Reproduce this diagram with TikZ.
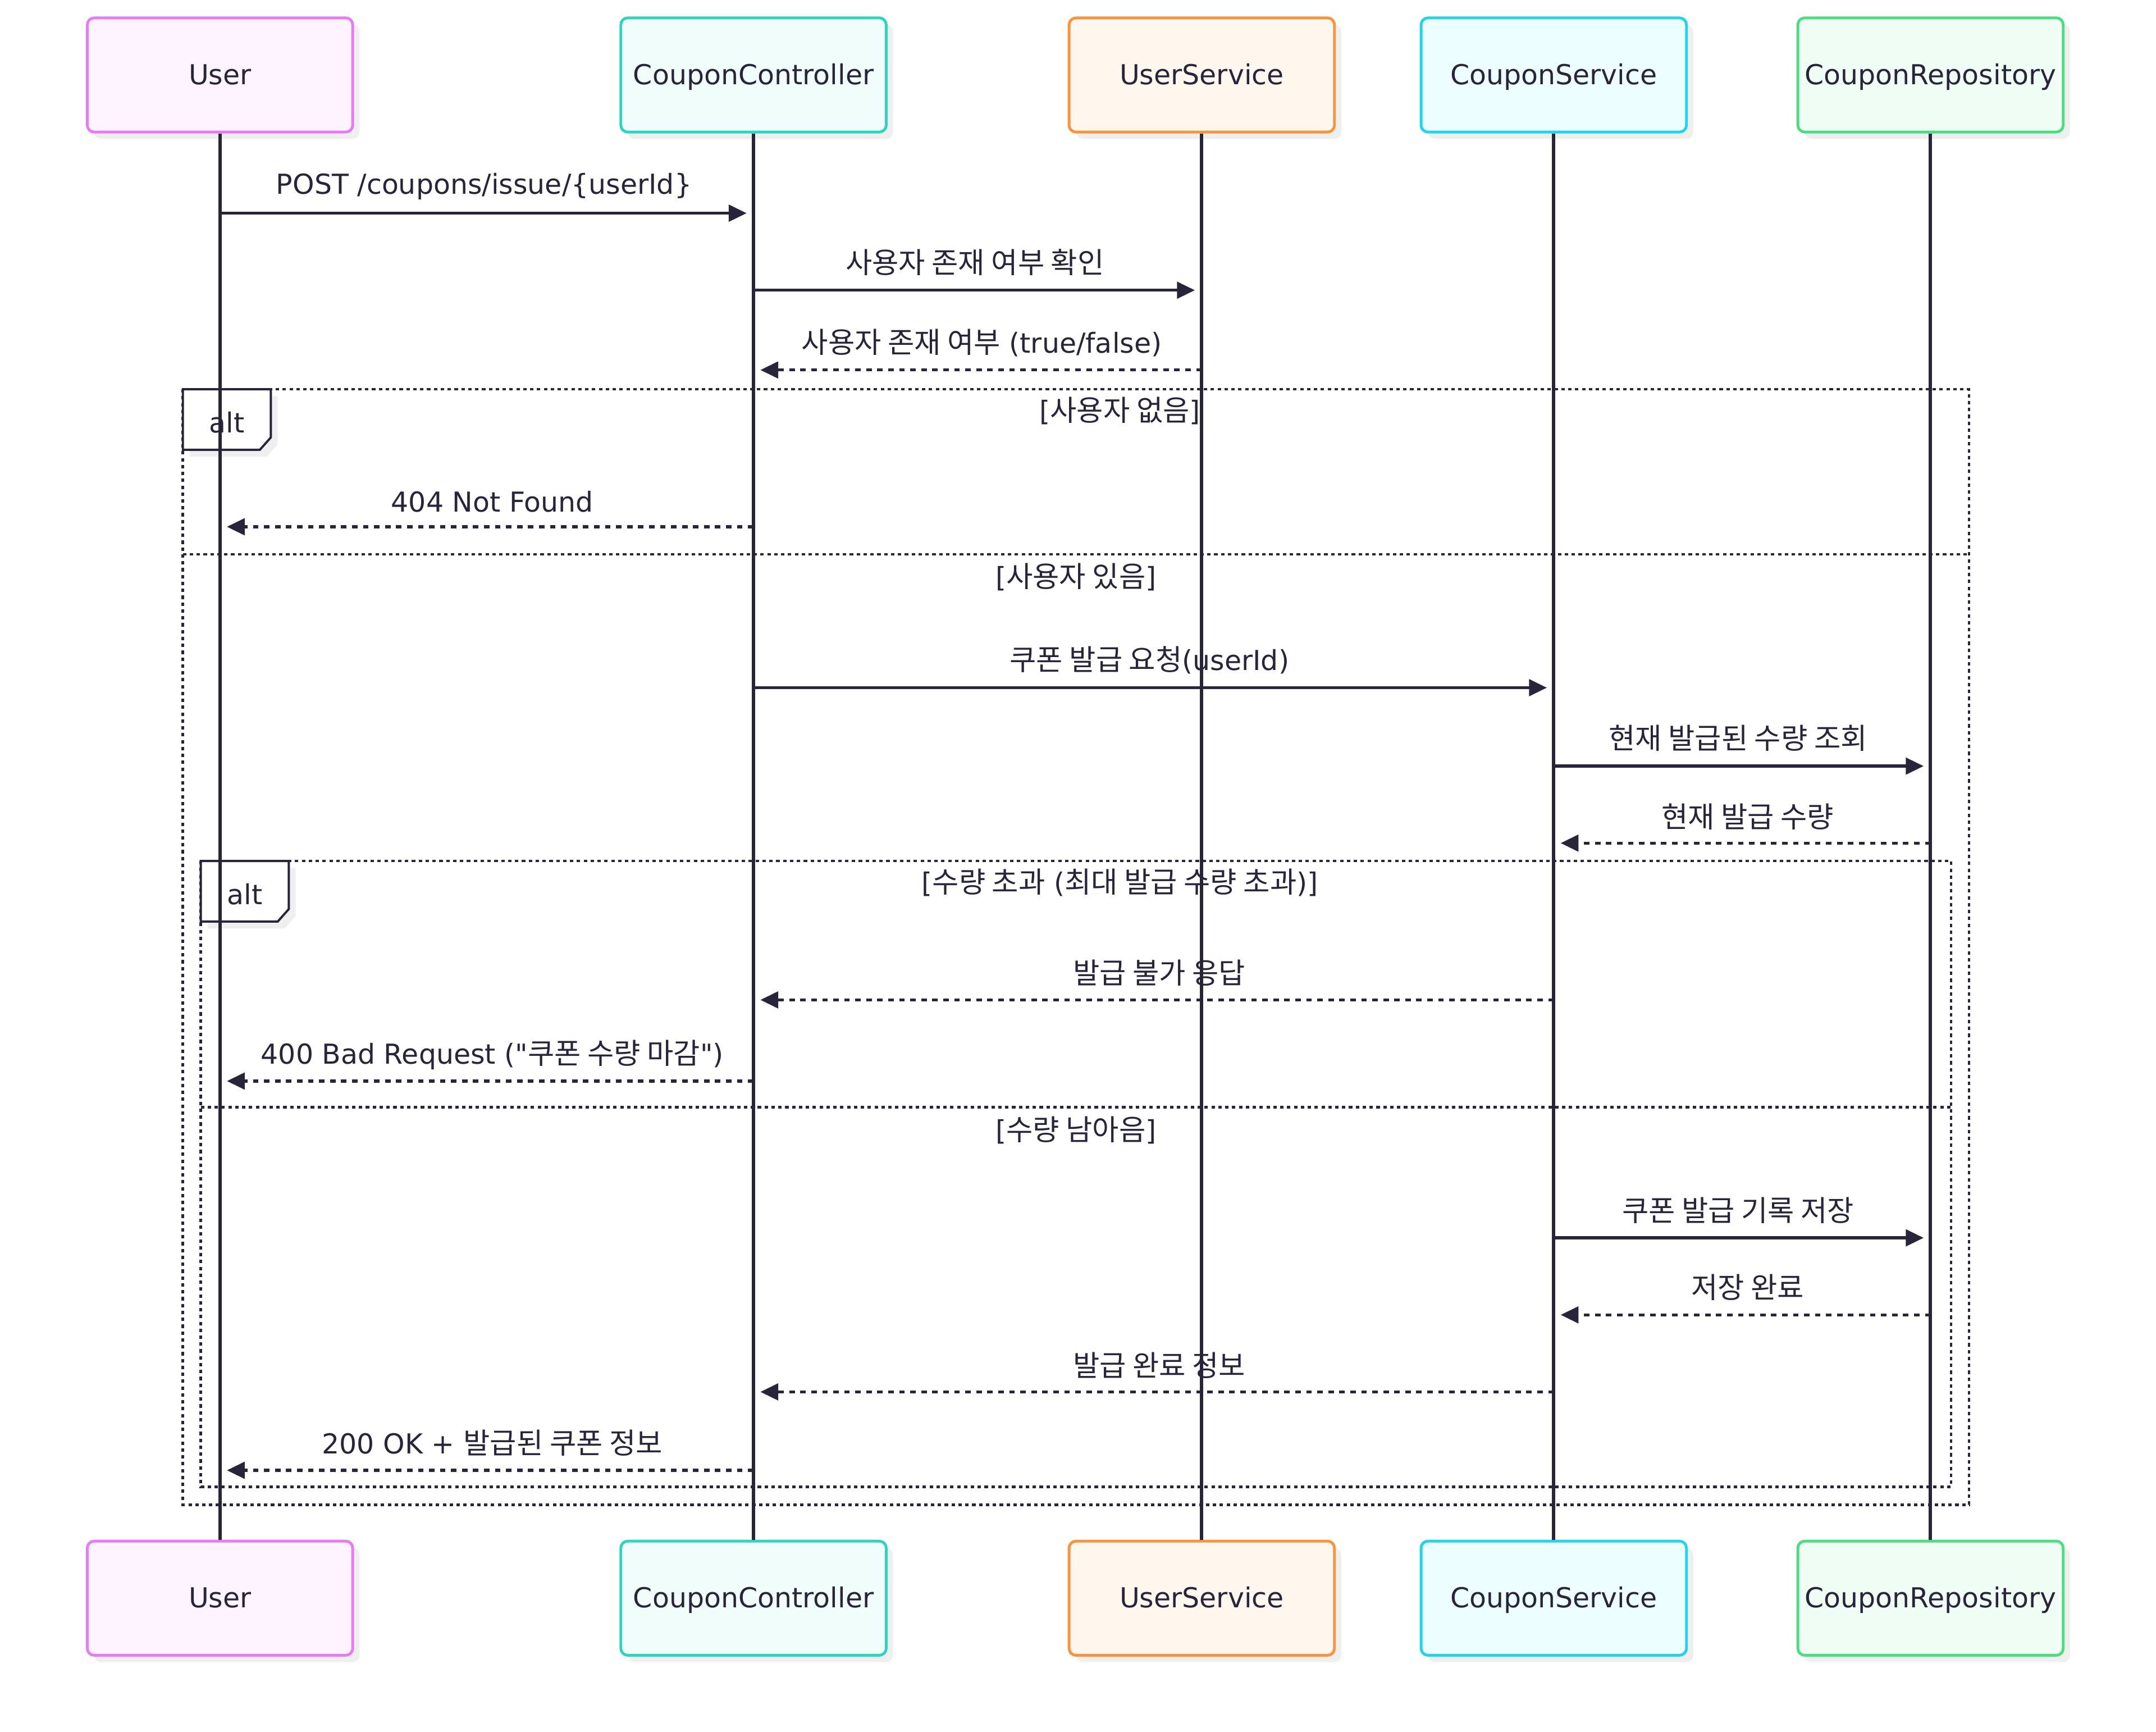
\documentclass[tikz,border=0pt]{standalone}
\usepackage{fontspec}
\setmainfont{DejaVu Sans}[Ligatures=TeXOff]
\newfontfamily\kr[Scale=1.05]{Noto Sans CJK KR}
\usetikzlibrary{arrows.meta,shadows}
\definecolor{ink}{HTML}{28253A}
\definecolor{shd}{HTML}{EFEFEF}
\definecolor{uB}{HTML}{E879F9}\definecolor{uF}{HTML}{FDF4FF}
\definecolor{cB}{HTML}{2DD4BF}\definecolor{cF}{HTML}{F0FDFA}
\definecolor{sB}{HTML}{FB923C}\definecolor{sF}{HTML}{FFF7ED}
\definecolor{vB}{HTML}{22D3EE}\definecolor{vF}{HTML}{ECFEFF}
\definecolor{rB}{HTML}{4ADE80}\definecolor{rF}{HTML}{F0FDF4}
\newcommand\K[1]{{\kr #1}}
\begin{document}
\begin{tikzpicture}[x=1pt,y=-1pt,
  font=\fontsize{20}{24}\selectfont, text=ink,
  actor/.style={draw, rounded corners=5pt, line width=2pt, minimum width=193pt,
    minimum height=83pt, inner sep=0pt, text=ink, text height=15pt, text depth=1pt,
    drop shadow={shadow xshift=5pt,shadow yshift=-5pt,fill=shd,opacity=1}},
  life/.style={draw=ink, line width=2.4pt},
  msg/.style={draw=ink, line width=2.2pt, -{Triangle[length=13pt,width=12pt]}, shorten >=5pt},
  reply/.style={msg, dash pattern=on 4pt off 4pt},
  frame/.style={draw=ink, line width=1.9pt, dash pattern=on 2.5pt off 2.5pt},
  altbox/.style={draw=ink, line width=1.6pt, fill=white,
    drop shadow={shadow xshift=5pt,shadow yshift=-5pt,fill=shd,opacity=1}},
  lbl/.style={anchor=base, inner sep=0pt, text=ink}]
\useasboundingbox (0,0) rectangle (1568,1259);

% actors top
\node[actor, draw=uB, fill=uF] (uT) at (160,54.5) {User};
\node[actor, draw=cB, fill=cF] (cT) at (548,54.5) {CouponController};
\node[actor, draw=sB, fill=sF] (sT) at (874,54.5) {UserService};
\node[actor, draw=vB, fill=vF] (vT) at (1130,54.5) {CouponService};
\node[actor, draw=rB, fill=rF] (rT) at (1404,54.5) {CouponRepository};
% actors bottom
\node[actor, draw=uB, fill=uF] (uD) at (160,1162) {User};
\node[actor, draw=cB, fill=cF] (cD) at (548,1162) {CouponController};
\node[actor, draw=sB, fill=sF] (sD) at (874,1162) {UserService};
\node[actor, draw=vB, fill=vF] (vD) at (1130,1162) {CouponService};
\node[actor, draw=rB, fill=rF] (rD) at (1404,1162) {CouponRepository};

% frames
\draw[frame] (133,283) rectangle (1432,1094);
\draw[frame] (133,403) -- (1432,403);
\draw[frame] (146,626) rectangle (1419,1081);
\draw[frame] (146,805) -- (1419,805);
\path[altbox] (133,283) -- (197,283) -- (197,318) -- (189,327) -- (133,327) -- cycle;
\node[lbl] (alt1) at (165,314.5) {alt};
\path[altbox] (146,626) -- (210,626) -- (210,661) -- (202,670) -- (146,670) -- cycle;
\node[lbl] (alt2) at (178,657.5) {alt};
\node[lbl] (g1) at (814.5,306) {[\K{사용자 없음}]};
\node[lbl] (g2) at (782.5,427) {[\K{사용자 있음}]};
\node[lbl] (g3) at (814.5,649) {[\K{수량 초과} (\K{최대 발급 수량 초과})]};
\node[lbl] (g4) at (782.5,829) {[\K{수량 남아음}]};

% message labels
\node[lbl] (t1) at (352,141) {POST /coupons/issue/\{userId\}};
\node[lbl] (t2) at (709,198.5) {\K{사용자 존재 여부 확인}};
\node[lbl] (t3) at (714,256.5) {\K{사용자 존재 여부} (true/false)};
\node[lbl] (t4) at (358,372) {404 Not Found};
\node[lbl] (t5) at (836,487.5) {\K{쿠폰 발급 요청}(userId)};
\node[lbl] (t6) at (1264,544.5) {\K{현재 발급된 수량 조회}};
\node[lbl] (t7) at (1271,601.5) {\K{현재 발급 수량}};
\node[lbl] (t8) at (843,715) {\K{발급 불가 응답}};
\node[lbl] (t9) at (358,773.5) {400 Bad Request ("\K{쿠폰 수량 마감}")};
\node[lbl] (t10) at (1264,888) {\K{쿠폰 발급 기록 저장}};
\node[lbl] (t11) at (1271,944) {\K{저장 완료}};
\node[lbl] (t12) at (843,1000.5) {\K{발급 완료 정보}};
\node[lbl] (t13) at (358,1057) {200 OK + \K{발급된 쿠폰 정보}};

% lifelines
\draw[life] (uT.south) -- (uD.north);
\draw[life] (cT.south) -- (cD.north);
\draw[life] (sT.south) -- (sD.north);
\draw[life] (vT.south) -- (vD.north);
\draw[life] (rT.south) -- (rD.north);

% messages
\draw[msg]   (uT |- 0,155)  -- (cT |- 0,155);
\draw[msg]   (cT |- 0,211)  -- (sT |- 0,211);
\draw[reply] (sT |- 0,269)  -- (cT |- 0,269);
\draw[reply] (cT |- 0,383)  -- (uT |- 0,383);
\draw[msg]   (cT |- 0,500)  -- (vT |- 0,500);
\draw[msg]   (vT |- 0,557)  -- (rT |- 0,557);
\draw[reply] (rT |- 0,613)  -- (vT |- 0,613);
\draw[reply] (vT |- 0,727)  -- (cT |- 0,727);
\draw[reply] (cT |- 0,786)  -- (uT |- 0,786);
\draw[msg]   (vT |- 0,900)  -- (rT |- 0,900);
\draw[reply] (rT |- 0,956)  -- (vT |- 0,956);
\draw[reply] (vT |- 0,1012) -- (cT |- 0,1012);
\draw[reply] (cT |- 0,1069) -- (uT |- 0,1069);
\end{tikzpicture}
\end{document}
